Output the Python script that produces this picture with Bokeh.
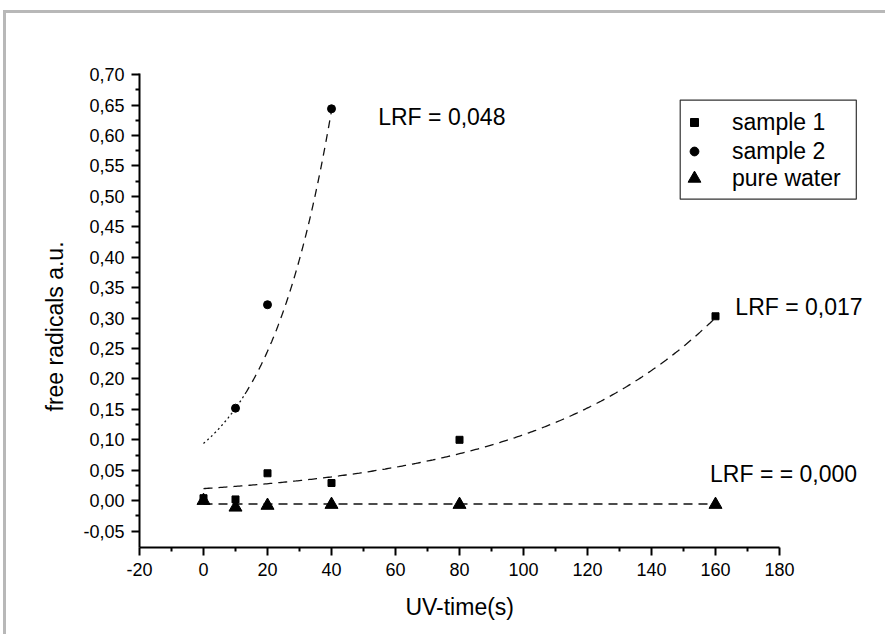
import numpy as np
from bokeh.plotting import figure
from bokeh.models import (Range1d, FixedTicker, CustomJSTickFormatter, Legend,
                          LegendItem, Label, BoxAnnotation)
from bokeh.embed import file_html
from bokeh.resources import INLINE

# ---------------- data ----------------
uv_time = [0, 10, 20, 40, 80, 160]
sample1 = [0.004, 0.002, 0.045, 0.029, 0.100, 0.303]
sample2_time = [10, 20, 40]
sample2 = [0.152, 0.322, 0.644]
pure_water = [0.000, -0.011, -0.008, -0.0065, -0.0065, -0.0065]

# exponential fits y = A * exp(LRF * t) as printed on the chart
fit_amplitude = [0.0198, 0.094]      # sample 1, sample 2
fit_lrf = [0.017, 0.048]             # sample 1, sample 2
fit_tmax = [160, 40]
water_fit_level = -0.0055            # LRF = 0
lrf_texts = ["LRF = 0,017", "LRF = 0,048", "LRF = = 0,000"]
legend_labels = ["sample 1", "sample 2", "pure water"]
x_title = "UV-time(s)"
y_title = "free radicals a.u."

x_ticks = [-20, 0, 20, 40, 60, 80, 100, 120, 140, 160, 180]
x_minor = [-10, 10, 30, 50, 70, 90, 110, 130, 150, 170]
y_ticks = [-0.05, 0.0, 0.05, 0.10, 0.15, 0.20, 0.25, 0.30, 0.35, 0.40,
           0.45, 0.50, 0.55, 0.60, 0.65, 0.70]
y_minor = [-0.025, 0.025, 0.075, 0.125, 0.175, 0.225, 0.275, 0.325, 0.375,
           0.425, 0.475, 0.525, 0.575, 0.625, 0.675]

FONT = "Liberation Sans"
NBSP = "\u00a0"

# the frame is widened to the right edge so the annotations are not clipped;
# the x axis itself is bounded to -20..180
p = figure(width=882, height=624, output_backend="svg", toolbar_location=None,
           x_range=Range1d(-20, 214.06), y_range=Range1d(-0.077, 0.702),
           min_border_left=133, min_border_top=60, min_border_right=0,
           min_border_bottom=90, margin=(13, 0, 0, 6))
# grey page frame along the top and left edges (drawn outside the layout box)
p.styles = {"box-shadow": "-3px -3px 0px 0px #b8b8b8"}
p.outline_line_color = None
p.grid.visible = False
p.background_fill_color = "white"
p.border_fill_color = "white"

for ax in (p.xaxis[0], p.yaxis[0]):
    ax.axis_line_width = 2
    ax.major_tick_line_width = 2
    ax.minor_tick_line_width = 2
    ax.major_tick_in = 0
    ax.major_tick_out = 8
    ax.minor_tick_in = 0
    ax.minor_tick_out = 4
    ax.major_label_text_font = FONT
    ax.major_label_text_font_size = "18px"
    ax.major_label_text_color = "black"
    ax.axis_label_text_font = FONT
    ax.axis_label_text_font_size = "23px"
    ax.axis_label_text_font_style = "normal"
    ax.axis_label_text_color = "black"
    ax.major_label_standoff = 7

p.xaxis.bounds = (x_ticks[0], x_ticks[-1])
p.xaxis.ticker = FixedTicker(ticks=x_ticks, minor_ticks=x_minor)
p.yaxis.ticker = FixedTicker(ticks=y_ticks, minor_ticks=y_minor)
p.xaxis.formatter = CustomJSTickFormatter(code="return String(Math.round(tick));")
p.yaxis.formatter = CustomJSTickFormatter(code="return tick.toFixed(2).replace('.', ',');")
# trailing no-break spaces move the centred titles to where the reference has them
p.xaxis.axis_label = x_title + NBSP * 17
p.yaxis.axis_label = y_title + NBSP * 5
p.xaxis.axis_label_standoff = 15
p.yaxis.axis_label_standoff = 12

# ---------------- fit curves ----------------
t1 = np.linspace(0, fit_tmax[0], 300)
p.line(t1, fit_amplitude[0] * np.exp(fit_lrf[0] * t1), line_color="#111111",
       line_width=1.3, line_dash="9 6")
t2a = np.linspace(0, 13, 60)
p.line(t2a, fit_amplitude[1] * np.exp(fit_lrf[1] * t2a), line_color="#111111",
       line_width=1.3, line_dash="2 3")
t2b = np.linspace(13, fit_tmax[1], 150)
p.line(t2b, fit_amplitude[1] * np.exp(fit_lrf[1] * t2b), line_color="#111111",
       line_width=1.3, line_dash="8 6")
p.line([uv_time[0], uv_time[-1]], [water_fit_level, water_fit_level],
       line_color="#111111", line_width=1.3, line_dash="9 6")

# ---------------- data points ----------------
r1 = p.scatter(uv_time, sample1, marker="square", size=7, color="black")
r2 = p.scatter(sample2_time, sample2, marker="circle", size=8, color="black")
r3 = p.scatter(uv_time, pure_water, marker="triangle", size=13, color="black")

# ---------------- LRF annotations ----------------
for (lx, ly), txt in zip([(166.2, 0.319), (54.6, 0.630), (158.3, 0.044)], lrf_texts):
    p.add_layout(Label(x=lx, y=ly, text=txt, text_font=FONT, text_font_size="23px",
                       text_baseline="alphabetic", text_color="black"))

# ---------------- legend: one box, one row per series ----------------
p.add_layout(BoxAnnotation(left=148.97, right=204.0, top=0.6584, bottom=0.4955,
                           fill_alpha=0, line_color="#333333", line_width=1.2,
                           line_alpha=1))
# (renderer, glyph box size, location x, location y, label standoff)
rows = [(r1, 20, 545, 411, 28), (r2, 22, 544, 382, 27), (r3, 32, 539, 353, 22)]
for (rend, gsz, lx, ly, stand), lab in zip(rows, legend_labels):
    lg = Legend(items=[LegendItem(label=lab, renderers=[rend])],
                location=(lx, ly), margin=0, padding=0, spacing=0,
                label_height=28, glyph_height=gsz, glyph_width=gsz,
                label_standoff=stand, label_text_font=FONT,
                label_text_font_size="23px", label_text_color="black",
                border_line_color=None, background_fill_alpha=0)
    p.add_layout(lg)

open("out.html", "w").write(file_html(p, INLINE))
